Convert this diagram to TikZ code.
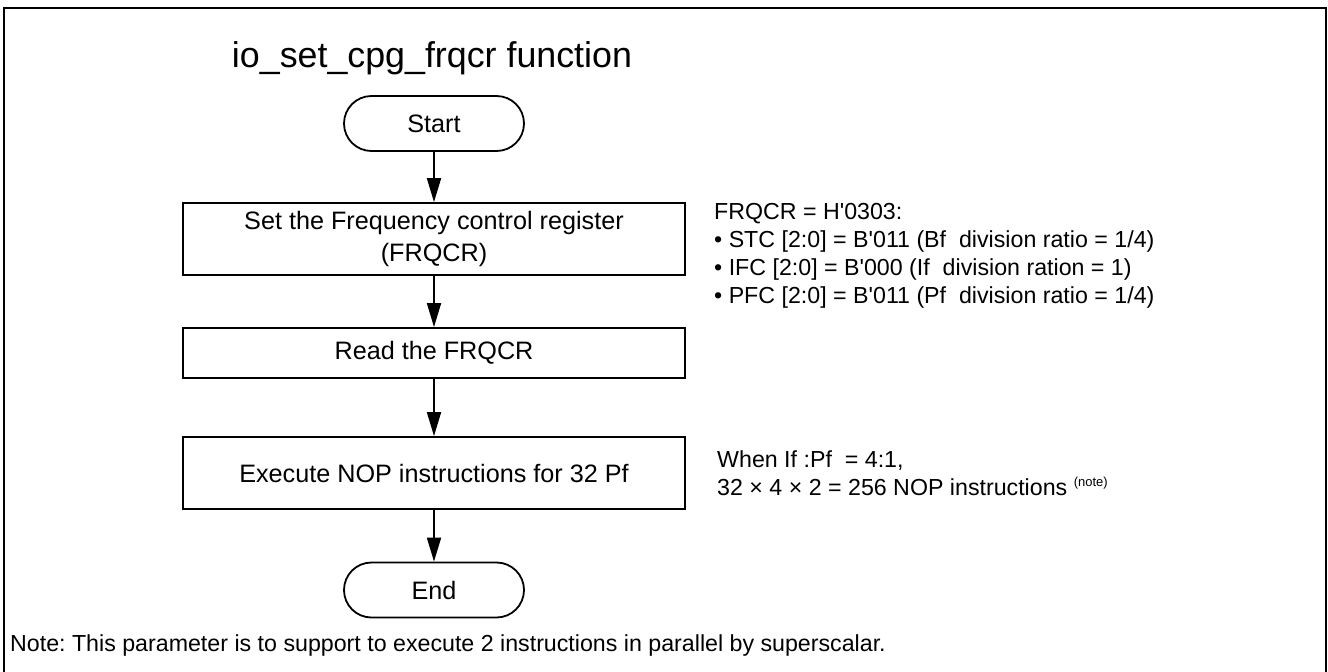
\documentclass[tikz,border=0pt]{standalone}
\usepackage{fontspec}
\setmainfont{Liberation Sans}[Ligatures=TeXOff]
\usetikzlibrary{shapes.misc,arrows.meta}
\frenchspacing
\begin{document}
\begin{tikzpicture}[x=1pt,y=-1pt,
  proc/.style={draw, line width=1.8pt, minimum width=502pt, inner sep=0pt,
    font=\fontsize{25.2}{32}\selectfont, align=center},
  term/.style={draw, rounded rectangle, minimum width=180pt, minimum height=55pt,
    inner sep=0pt, line width=1.8pt, font=\fontsize{25.2}{32}\selectfont},
  flow/.style={line width=1.8pt, -{Triangle[length=24pt,width=14pt]}},
  annot/.style={font=\fontsize{23.2}{28}\selectfont\frenchspacing, align=left, anchor=west, inner sep=0pt},
  frame/.style={line width=2.8pt}
]
\useasboundingbox (0,0) rectangle (1328,672);
\coordinate (fbl) at (4,672);
\coordinate (ftl) at (4,8);
\coordinate (ftr) at (1326,8);
\coordinate (fbr) at (1326,672);
\draw[frame] (fbl) -- (ftl) -- (ftr) -- (fbr);

\node[font=\fontsize{35.8}{40}\selectfont, inner sep=0pt] (title) at (432,58) {io\_set\_cpg\_frqcr function};

\node[term] (start) at (434,123.5) {Start};
\node[proc, minimum height=72pt] (b1) at (434,239) {Set the Frequency control register\\(FRQCR)};
\node[proc, minimum height=50pt] (b2) at (434,353) {Read the FRQCR};
\node[proc, minimum height=72pt] (b3) at (434,473) {Execute NOP instructions for 32 Pf};
\node[term] (end) at (434,590) {End};

\draw[flow] (start) -- (b1);
\draw[flow] (b1) -- (b2);
\draw[flow] (b2) -- (b3);
\draw[flow] (b3) -- (end);

\node[annot] (a1) at (714,256) {FRQCR = H'0303:\\
\textbullet\ STC [2:0] = B'011 (Bf\ \ division ratio = 1/4)\\
\textbullet\ IFC [2:0] = B'000 (If\ \ division ration = 1)\\
\textbullet\ PFC [2:0] = B'011 (Pf\ \ division ratio = 1/4)};

\node[annot] (a2) at (717,473) {When If :Pf\ \ = 4:1,\\
32 × 4 × 2 = 256 NOP instructions {\fontsize{13}{13}\selectfont\raisebox{9pt}{(note)}}};

\node[annot] (note) at (10,645) {Note: This parameter is to support to execute 2 instructions in parallel by superscalar.};
\end{tikzpicture}
\end{document}
